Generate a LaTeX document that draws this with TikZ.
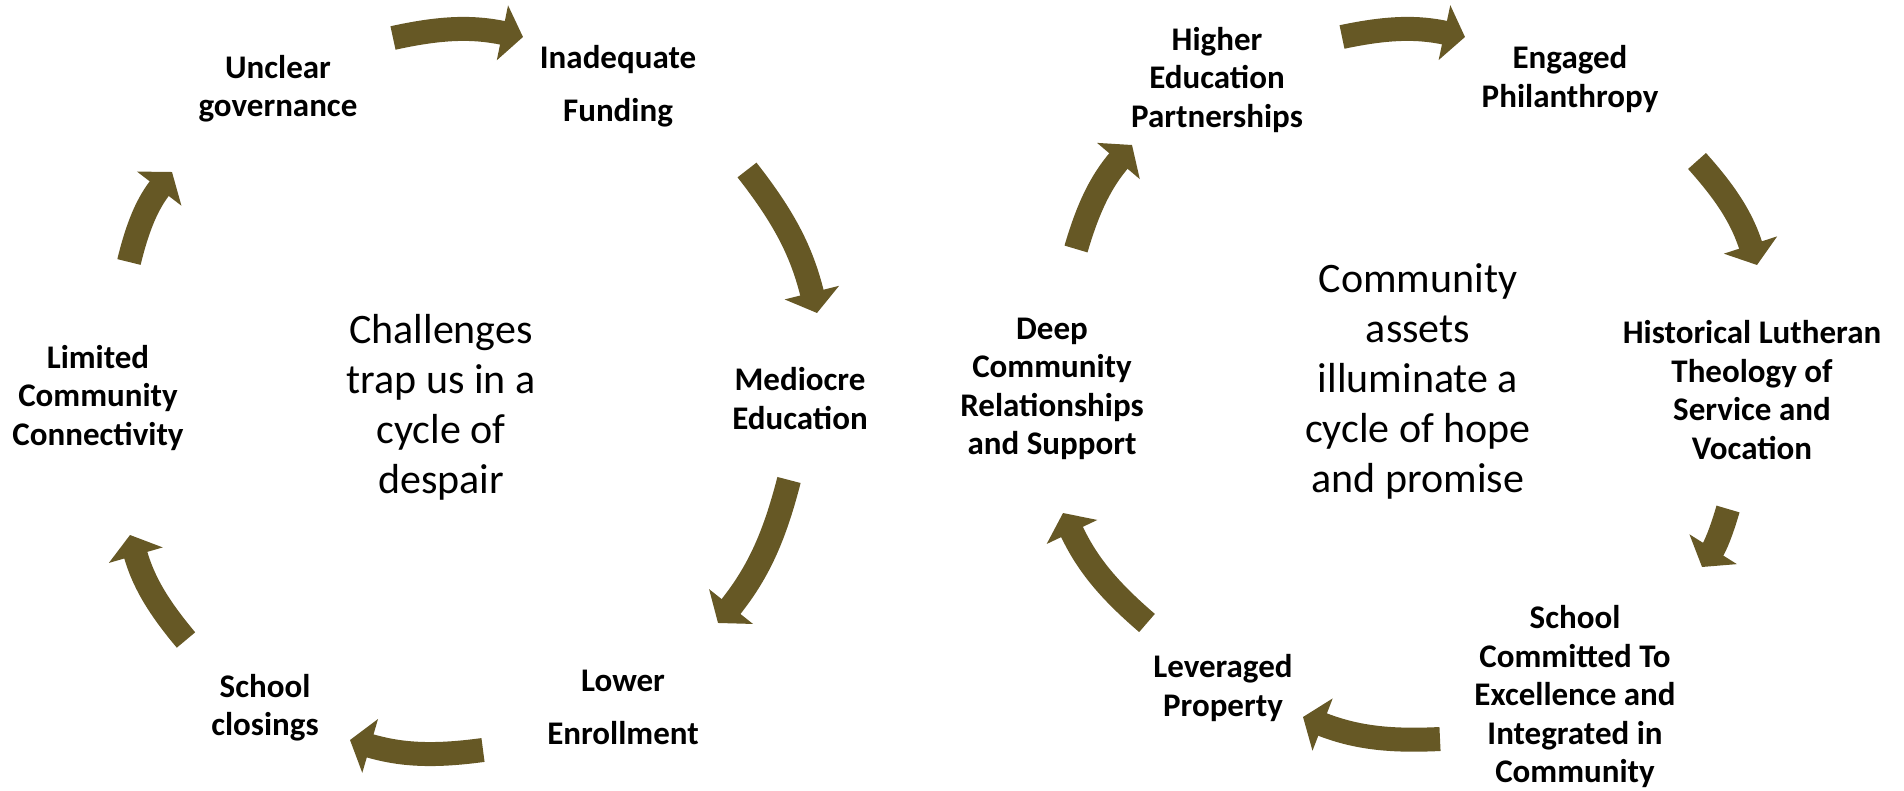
\documentclass[tikz,border=0pt]{standalone}
\usepackage{fontspec}
\setmainfont{Carlito}
\usetikzlibrary{arrows.meta}
\definecolor{cyclebrown}{RGB}{102,88,37}

\begin{document}
\begin{tikzpicture}[x=1pt, y=1pt, every node/.style={align=center, font=\fontsize{33}{38.5}\selectfont\bfseries}, big/.style={font=\fontsize{42}{50}\selectfont}, wide/.style={font=\fontsize{33}{53}\selectfont\bfseries}, cyc/.style={line width=24pt, cyclebrown, -{Triangle[width=55pt,length=21pt]}}]
\useasboundingbox (0,0) rectangle (1904,790);

% cycle of despair
\node (a) at (278,701.5) {Unclear\\governance};
\node[wide] (b) at (618,703.5) {Inadequate\\Funding};
\node (c) at (800,391.5) {Mediocre\\Education};
\node[wide] (d) at (623,82.5) {Lower\\Enrollment};
\node (e) at (265,82.5) {School\\closings};
\node (f) at (98,392) {Limited\\Community\\Connectivity};
\node[big] (g) at (441,383) {Challenges\\trap us in a\\cycle of\\despair};

% cycle of hope
\node (h) at (1217,710) {Higher\\Education\\Partnerships};
\node (i) at (1570,711) {Engaged\\Philanthropy};
\node (j) at (1752,400) {Historical Lutheran\\Theology of\\Service and\\Vocation};
\node (k) at (1575,93) {School\\Committed To\\Excellence and\\Integrated in\\Community};
\node (l) at (1223,102) {Leveraged\\Property};
\node (m) at (1052,401) {Deep\\Community\\Relationships\\and Support};
\node[big] (n) at (1418,409) {Community\\assets\\illuminate a\\cycle of hope\\and promise};

\coordinate (s1) at (393,752); \coordinate (t1) at (523,753);
\coordinate (s2) at (747,620); \coordinate (t2) at (817,477);
\coordinate (s3) at (789,310); \coordinate (t3) at (718,167);
\coordinate (s4) at (483,40); \coordinate (t4) at (350,50);
\coordinate (s5) at (186,150); \coordinate (t5) at (130,255);
\coordinate (s6) at (129,528); \coordinate (t6) at (172,618);
\coordinate (s7) at (1076,541); \coordinate (t7) at (1132,645);
\coordinate (s8) at (1342,753); \coordinate (t8) at (1465,753);
\coordinate (s9) at (1697,629); \coordinate (t9) at (1757,525);
\coordinate (s10) at (1728,281); \coordinate (t10) at (1702,223);
\coordinate (s11) at (1440,51); \coordinate (t11) at (1303,73);
\coordinate (s12) at (1147,167); \coordinate (t12) at (1063,277);

\draw[cyc] (s1) to[bend left=12] (t1);
\draw[cyc] (s2) to[bend left=12] (t2);
\draw[cyc] (s3) to[bend left=12] (t3);
\draw[cyc] (s4) to[bend left=12] (t4);
\draw[cyc] (s5) to[bend left=12] (t5);
\draw[cyc] (s6) to[bend left=12] (t6);

\draw[cyc] (s7) to[bend left=12] (t7);
\draw[cyc] (s8) to[bend left=12] (t8);
\draw[cyc] (s9) to[bend left=12] (t9);
\draw[cyc] (s10) to[bend left=8] (t10);
\draw[cyc] (s11) to[bend left=12] (t11);
\draw[cyc] (s12) to[bend left=12] (t12);
\end{tikzpicture}
\end{document}
